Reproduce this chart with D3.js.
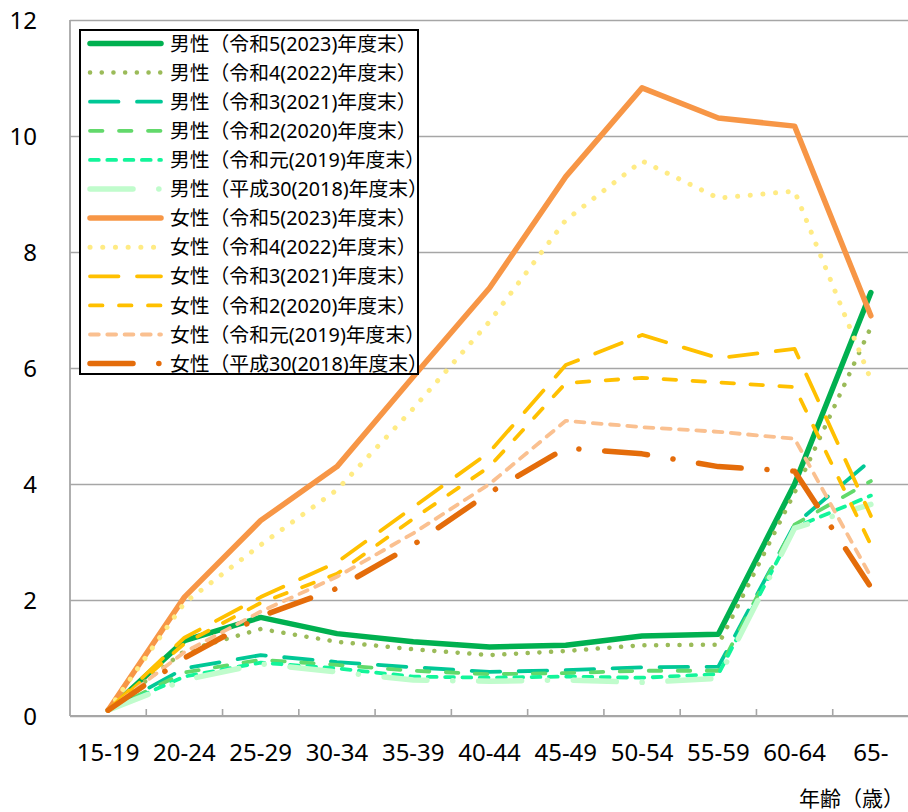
<!DOCTYPE html>
<html><head><meta charset="utf-8">
<script src="https://cdn.jsdelivr.net/npm/d3@7"></script>
<style>
body{margin:0;background:#fff}
svg text{font-family:"Noto Sans","Noto Sans CJK JP",sans-serif;fill:#000}
</style></head>
<body><svg id="c" width="908" height="812"></svg>
<script>
// ---- data ----
const categories = ["15-19","20-24","25-29","30-34","35-39","40-44","45-49","50-54","55-59","60-64","65-"];
const yTicks = [0,2,4,6,8,10,12];
const seriesNames = [
  "男性（令和5(2023)年度末）","男性（令和4(2022)年度末）","男性（令和3(2021)年度末）",
  "男性（令和2(2020)年度末）","男性（令和元(2019)年度末）","男性（平成30(2018)年度末）",
  "女性（令和5(2023)年度末）","女性（令和4(2022)年度末）","女性（令和3(2021)年度末）",
  "女性（令和2(2020)年度末）","女性（令和元(2019)年度末）","女性（平成30(2018)年度末）"
];
const male2023 = [0.1,1.3,1.7,1.42,1.28,1.19,1.22,1.38,1.41,4.0,7.3];
const male2022 = [0.1,1.12,1.5,1.28,1.15,1.05,1.12,1.22,1.23,3.85,6.7];
const male2021 = [0.1,0.82,1.05,0.93,0.84,0.76,0.79,0.84,0.85,3.3,4.41];
const male2020 = [0.1,0.75,0.97,0.88,0.78,0.72,0.74,0.78,0.78,3.3,4.05];
const male2019 = [0.1,0.68,0.92,0.82,0.68,0.66,0.68,0.66,0.72,3.25,3.8];
const male2018 = [0.1,0.62,0.9,0.76,0.62,0.6,0.62,0.58,0.65,3.24,3.65];
const female2023 = [0.1,2.05,3.37,4.3,5.85,7.38,9.3,10.83,10.31,10.17,6.9];
const female2022 = [0.1,1.95,2.95,3.9,5.3,6.8,8.55,9.57,8.93,9.05,5.8];
const female2021 = [0.1,1.35,2.05,2.65,3.6,4.55,6.05,6.57,6.17,6.33,3.45];
const female2020 = [0.1,1.25,1.95,2.45,3.4,4.3,5.74,5.83,5.75,5.67,2.95];
const female2019 = [0.1,1.1,1.8,2.4,3.15,4.0,5.09,4.98,4.9,4.78,2.4];
const female2018 = [0.1,1.0,1.72,2.2,2.95,3.85,4.62,4.52,4.3,4.22,2.22];
const seriesValues = [male2023,male2022,male2021,male2020,male2019,male2018,
                      female2023,female2022,female2021,female2020,female2019,female2018];

// ---- styles ----
const styles = [
  {c:"#00B050", w:5.5, d:null},
  {c:"#9BBB59", w:4.5, d:"0.1 11.6"},
  {c:"#00C896", w:3.8, d:"28.5 18.5"},
  {c:"#62D96B", w:3.8, d:"12.5 16.5"},
  {c:"#12F59A", w:3.8, d:"8.8 8.5"},
  {c:"#C0FCCC", w:5.5, d:"43 25.8 0.1 25.8"},
  {c:"#F79646", w:5.5, d:null},
  {c:"#FFEB84", w:5, d:"0.1 12.6"},
  {c:"#FFC000", w:3.8, d:"28.5 18.5"},
  {c:"#FFC000", w:3.8, d:"12.5 16.5"},
  {c:"#FAC090", w:3.8, d:"8.8 8.5"},
  {c:"#E46C0A", w:5.5, d:"43 25.8 0.1 25.8"}
];

const svg = d3.select("#c");
const L = 70, R = 909, T = 20, B = 716;
const x = d3.scaleBand().domain(categories).range([L, R]).paddingInner(0).paddingOuter(0);
const y = d3.scaleLinear().domain([0,12]).range([B, T]);
const gray = "#A6A6A6";

// gridlines + y labels
const ya = svg.append("g").attr("transform",`translate(${L},0)`)
  .call(d3.axisLeft(y).tickValues(yTicks).tickSize(-(R-L)).tickPadding(33).tickFormat(d3.format("d")));
ya.select(".domain").remove();
ya.selectAll("line").attr("stroke",gray).attr("stroke-width",1.6);
ya.selectAll("text").attr("font-size",24).attr("dy","0.36em")
  .style("font-family","'Noto Sans','Noto Sans CJK JP',sans-serif");

// axes lines
svg.append("line").attr("x1",L).attr("x2",L).attr("y1",T).attr("y2",B).attr("stroke",gray).attr("stroke-width",1.8);
svg.append("line").attr("x1",L).attr("x2",R).attr("y1",B).attr("y2",B).attr("stroke",gray).attr("stroke-width",1.8);
// x ticks (category boundaries, inward)
svg.append("g").selectAll("line").data(categories.slice(1)).join("line")
  .attr("x1",d=>x(d)).attr("x2",d=>x(d)).attr("y1",B).attr("y2",B-7)
  .attr("stroke",gray).attr("stroke-width",1.6);
// x labels
svg.append("g").selectAll("text").data(categories).join("text")
  .attr("x",d=>x(d)+x.bandwidth()/2).attr("y",752).attr("dy","0.36em")
  .attr("text-anchor","middle").attr("font-size",24).text(d=>d);
svg.append("text").attr("x",904).attr("y",806).attr("text-anchor","end")
  .attr("font-size",21).style("font-family","'Noto Sans CJK JP',sans-serif").text("年齢（歳）");

// lines
const line = d3.line().x((d,i)=>x(categories[i])+x.bandwidth()/2).y(d=>y(d));
svg.append("g").selectAll("path").data(seriesValues).join("path")
  .attr("d",d=>line(d)).attr("fill","none")
  .attr("stroke",(d,i)=>styles[i].c).attr("stroke-width",(d,i)=>styles[i].w)
  .attr("stroke-dasharray",(d,i)=>styles[i].d)
  .attr("stroke-linecap","round").attr("stroke-linejoin","round");

// legend
const lg = svg.append("g");
lg.append("rect").attr("x",80).attr("y",30).attr("width",338).attr("height",344)
  .attr("fill","#fff").attr("stroke","#000").attr("stroke-width",2);
const rowY = i => 43.5 + i*29.1;
lg.selectAll("path").data(seriesNames).join("path")
  .attr("d",(d,i)=>`M90,${rowY(i)}H161`).attr("fill","none")
  .attr("stroke",(d,i)=>styles[i].c).attr("stroke-width",(d,i)=>styles[i].w)
  .attr("stroke-dasharray",(d,i)=>styles[i].d).attr("stroke-linecap","round");
lg.selectAll("text").data(seriesNames).join("text")
  .attr("x",170).attr("y",(d,i)=>rowY(i)).attr("dy","0.36em")
  .attr("font-size",19.8).text(d=>d);
</script></body></html>
